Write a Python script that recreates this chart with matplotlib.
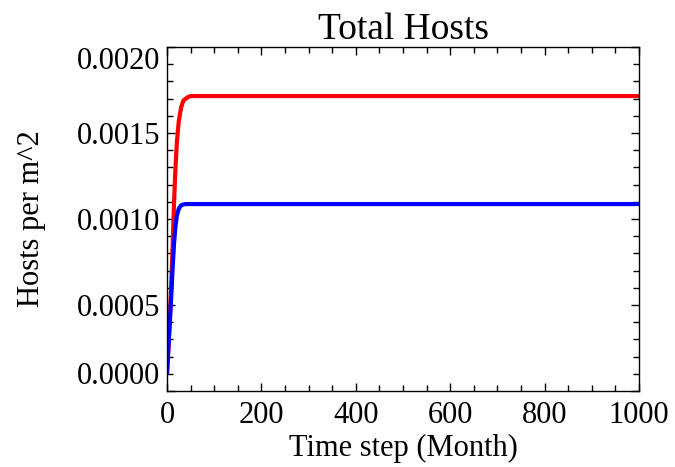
import numpy as np
import matplotlib
matplotlib.use("Agg")
import matplotlib.pyplot as plt
from matplotlib.ticker import MultipleLocator, FormatStrFormatter

t_red = [0, 3, 6, 9, 12, 15, 18, 21, 25, 30, 35, 40, 45, 50, 60, 1000]
red = [0.00010, 0.00025, 0.00042, 0.00062, 0.00085, 0.00110, 0.00130, 0.00145,
       0.00157, 0.00165, 0.00169, 0.00170, 0.001710, 0.001715, 0.001715, 0.001715]

t_blue = [0, 3, 6, 9, 12, 15, 18, 21, 25, 30, 35, 40, 50, 1000]
blue = [0.00010, 0.00025, 0.00040, 0.00055, 0.00072, 0.00086, 0.00096, 0.00102,
        0.00106, 0.00108, 0.001085, 0.001087, 0.001087, 0.001087]

plt.rcParams['font.family'] = ['Liberation Serif', 'DejaVu Serif']

fig = plt.figure(figsize=(6.75, 4.67), dpi=100)
ax = fig.add_axes([0.2474, 0.1627, 0.6993, 0.7366])

ax.plot(t_red, red, color='#ff0000', lw=3, solid_capstyle='butt')
ax.plot(t_blue, blue, color='#0000ff', lw=3, solid_capstyle='butt')

ax.set_xlim(0, 1000)
ax.set_ylim(0, 0.0020)
ax.xaxis.set_major_locator(MultipleLocator(200))
ax.xaxis.set_minor_locator(MultipleLocator(50))
ax.yaxis.set_major_locator(MultipleLocator(0.0005))
ax.yaxis.set_minor_locator(MultipleLocator(0.0001))
ax.yaxis.set_major_formatter(FormatStrFormatter('%.4f'))

ax.tick_params(which='both', direction='in', top=True, right=True, width=1)
ax.tick_params(which='major', length=6, labelsize=22)
ax.tick_params(which='minor', length=4)
ax.tick_params(axis='x', pad=7)
ax.tick_params(axis='y', pad=5)
for s in ax.spines.values():
    s.set_linewidth(1)

ax.set_title('Total Hosts', fontsize=27, pad=6)
ax.set_xlabel('Time step (Month)', fontsize=22, labelpad=3)
ax.set_ylabel('Hosts per m^2', fontsize=22, labelpad=22)

# end labels sit inside the axis range, like the original
fig.canvas.draw()
yticks = [t for t in ax.yaxis.get_major_ticks() if 0 <= t.get_loc() <= 0.0020 + 1e-9]
for t in yticks:
    if abs(t.get_loc() - 0.0020) < 1e-9:
        t.label1.set_va('top')
    elif abs(t.get_loc()) < 1e-9:
        t.label1.set_va('bottom')

fig.savefig('out.png', dpi=100)
